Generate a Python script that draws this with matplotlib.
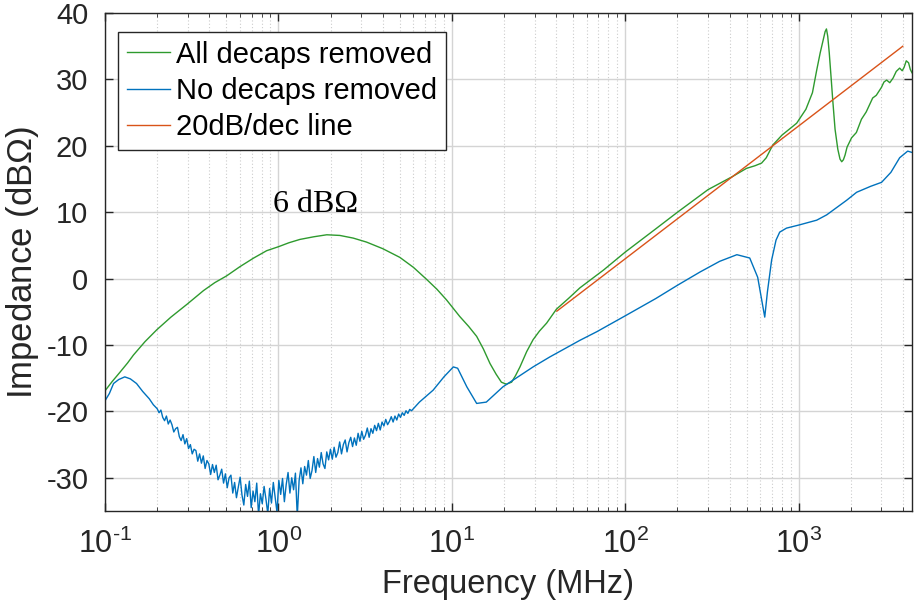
import numpy as np
import matplotlib
matplotlib.use('Agg')
import matplotlib.pyplot as plt
from matplotlib.ticker import LogLocator, FixedLocator, FixedFormatter

plt.rcParams['font.family'] = ['Liberation Sans', 'DejaVu Sans']
plt.rcParams['mathtext.fontset'] = 'custom'
plt.rcParams['mathtext.rm'] = 'Liberation Sans'
plt.rcParams['axes.unicode_minus'] = False

# All decaps removed (green)
all_f = [0.1, 0.11, 0.122, 0.135, 0.146, 0.17, 0.199, 0.24, 0.296, 0.37, 0.43, 0.502, 0.6, 0.72,
         0.855, 1.0, 1.15, 1.33, 1.6, 1.9, 2.26, 2.7, 3.22, 4.0, 5.01, 6.0, 7.14, 8.2, 9.31, 11.1,
         12.5, 13.9, 15.2, 16.6, 18.0, 19.3, 20.6, 22.1, 23.3, 24.7, 27.0, 29.4, 32.0, 35.2, 40.1,
         47, 54.7, 75, 100, 150, 200, 300, 417, 500, 560, 611, 650, 708, 800, 973, 1100, 1200,
         1270, 1330, 1380, 1420, 1445, 1470, 1500, 1540, 1571, 1620, 1680, 1730, 1770, 1810, 1850,
         1900, 2017, 2150, 2300, 2450, 2670, 2800, 3000, 3100, 3214, 3350, 3500, 3650, 3820, 3950,
         4050, 4170, 4300, 4400, 4500]
all_db = [-16.9, -15.5, -14.1, -12.7, -11.5, -9.5, -7.7, -5.8, -3.9, -1.8, -0.6, 0.4, 1.8, 3.1,
          4.2, 4.8, 5.4, 5.9, 6.3, 6.6, 6.5, 6.1, 5.5, 4.5, 3.2, 1.7, -0.1, -1.6, -3.2, -5.7,
          -7.2, -8.7, -10.6, -12.8, -14.4, -15.6, -15.9, -15.6, -14.6, -13.3, -11.0, -9.2, -7.9, -6.7, -4.6,
          -3.0, -1.4, 1.3, 4.0, 7.5, 10.0, 13.4, 15.4, 16.6, 17.0, 17.4, 18.2, 20.1, 21.6, 23.4, 25.5, 28.0,
          31.4, 34.0, 35.8, 37.2, 37.6, 36.5, 34.0, 30.0, 26.9, 22.5, 19.5, 18.0, 17.6, 17.9, 18.6,
          19.8, 21.2, 22.0, 24.0, 25.1, 27.2, 27.6, 28.8, 29.6, 29.9, 29.5, 30.2, 31.2, 31.7, 31.3,
          31.8, 32.8, 32.5, 31.5, 31.0]

# No decaps removed (blue): low-frequency rise
none_f_low = [0.1, 0.106, 0.112, 0.12, 0.13, 0.14, 0.152, 0.165, 0.18, 0.19]
none_db_low = [-18.4, -17.3, -15.8, -15.2, -14.8, -15.1, -15.8, -17.0, -18.1, -19.0]

# noisy valley between 0.2 and 6 MHz, read on the sweep grid
none_db_mid = [-19.6, -20.2, -19.8, -20.9, -21.4, -20.7, -21.9, -21.3, -22.0, -23.1,
               -22.6, -22.4, -23.8, -24.4, -23.5, -24.9, -24.1, -25.6, -25.0, -26.4,
               -25.7, -25.9, -27.5, -26.4, -27.8, -26.7, -28.6, -27.4, -27.9, -29.5,
               -28.0, -29.2, -28.1, -30.3, -29.6, -28.7, -30.8, -29.4, -31.5, -30.0,
               -29.6, -32.3, -30.7, -33.0, -31.4, -29.9, -32.6, -34.1, -31.0, -32.8,
               -30.5, -34.5, -32.0, -33.6, -30.8, -35.6, -32.4, -33.9, -31.3, -33.2,
               -35.4, -31.6, -33.8, -30.7, -32.9, -35.2, -30.4, -32.5, -30.1, -33.6,
               -31.0, -29.2, -32.3, -30.0, -31.8, -29.3, -35.8, -30.4, -28.5, -30.9,
               -28.3, -29.6, -27.4, -30.1, -28.9, -26.8, -29.2, -27.1, -28.4, -26.2,
               -27.9, -28.6, -26.1, -27.3, -25.7, -27.2, -25.4, -26.9, -26.2, -24.6,
               -26.4, -25.0, -24.3, -26.1, -24.7, -23.9, -25.3, -24.0, -25.1, -23.3,
               -24.5, -23.0, -24.2, -23.6, -22.5, -23.9, -22.6, -23.3, -22.1, -22.9,
               -21.8, -22.8, -21.6, -22.2, -21.2, -22.0, -21.5, -20.8, -21.6, -20.7,
               -21.3, -20.4, -20.9, -20.2, -20.6, -19.9, -20.3, -19.7, -19.9, -19.6]
none_f_mid = np.geomspace(0.2, 6.0, len(none_db_mid))

none_f_high = [6.5, 7.8, 9.0, 10.2, 10.8, 12.2, 13.9, 15.8, 19.7, 29.4, 36.7, 54.7, 68.5, 100,
               150, 200, 270, 350, 440, 522, 580, 610, 637, 660, 698, 740, 777, 850, 1013,
               1270, 1450, 1890, 2157, 2600, 3005, 3400, 3820, 4250, 4500]
none_db_high = [-18.6, -16.8, -14.8, -13.3, -13.5, -16.3, -18.8, -18.6, -16.3, -13.3, -11.8, -9.3, -8.0, -5.6,
                -3.0, -1.0, 1.0, 2.6, 3.6, 3.1, 0.2, -3.0, -5.8, -2.0, 2.8, 5.8, 7.0, 7.6, 8.1,
                8.8, 9.6, 11.8, 13.0, 13.9, 14.5, 16.0, 18.2, 19.2, 19.0]

# 20 dB/dec reference line
ref_f = [40.3, 3980]
ref_db = [-4.9, -4.9 + 20 * np.log10(3980 / 40.3)]

x_ticks = [0.1, 1, 10, 100, 1000]
x_labels = ['$10^{\\text{-1}}$', '$10^{0}$', '$10^{1}$', '$10^{2}$', '$10^{3}$']

none_f = np.concatenate([none_f_low, none_f_mid, none_f_high])
none_db = np.concatenate([none_db_low, none_db_mid, none_db_high])

fig = plt.figure(figsize=(9.14, 6.15), dpi=100)
ax = fig.add_axes([105 / 914, 104 / 615, 807 / 914, 498 / 615])

ax.semilogx(all_f, all_db, color='#2e9a2e', lw=1.0, label='All decaps removed')
ax.semilogx(none_f, none_db, color='#0072BD', lw=1.0, label='No decaps removed')
ax.semilogx(ref_f, ref_db, color='#D95319', lw=1.0, label='20dB/dec line')

ax.set_xlim(0.1, 4500)
ax.set_ylim(-35, 40)
ax.set_yticks(range(-30, 41, 10))
ax.xaxis.set_major_locator(FixedLocator(x_ticks))
ax.xaxis.set_major_formatter(FixedFormatter(x_labels))
ax.xaxis.set_minor_locator(LogLocator(base=10, subs=np.arange(2, 10)))
ax.grid(which='major', color='#d4d4d4', lw=1.0, ls='-')
ax.grid(which='minor', axis='x', color='#cccccc', lw=0.8, ls=(0, (1, 2)))
ax.set_axisbelow(True)

ax.tick_params(which='both', direction='in', top=True, right=True, labelsize=21, colors='#262626')
ax.tick_params(axis='x', which='major', labelsize=22, pad=13)
ax.tick_params(which='major', length=6, width=1.0)
ax.tick_params(axis='y', which='major', pad=12)
ax.tick_params(which='minor', length=3, width=0.6)
for s in ax.spines.values():
    s.set_color('#262626')
    s.set_linewidth(1.0)

ax.set_xlabel('Frequency (MHz)', fontsize=23.5, color='#262626', labelpad=6)
ax.set_ylabel('Impedance (dB$\\Omega$)', fontsize=25, color='#262626', labelpad=4)

ax.text(1.64, 10.0, '6 dB\u03a9', family='Liberation Serif', fontsize=23, ha='center', va='baseline')

leg = ax.legend(loc='upper left', bbox_to_anchor=(0.016, 0.962), borderaxespad=0,
                fontsize=21, fancybox=False, framealpha=1, edgecolor='#262626',
                handlelength=1.5, handletextpad=0.2, labelspacing=0.28, borderpad=0.3)
leg.get_frame().set_linewidth(1.0)

fig.savefig('out.png', dpi=100)
